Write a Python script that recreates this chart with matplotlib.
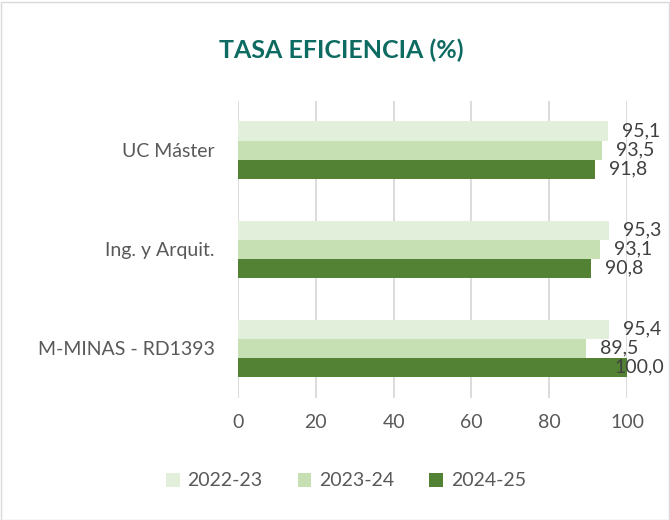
import matplotlib
matplotlib.use("Agg")
import matplotlib.pyplot as plt
from matplotlib.patches import Patch, Rectangle
import numpy as np

categories = ["M-MINAS - RD1393", "Ing. y Arquit.", "UC Máster"]
series_names = ["2022-23", "2023-24", "2024-25"]
values_2022 = [95.4, 95.3, 95.1]
values_2023 = [89.5, 93.1, 93.5]
values_2024 = [100.0, 90.8, 91.8]
xticks = [0, 20, 40, 60, 80, 100]

colors = ["#E2EFDA", "#C6E0B4", "#548235"]
text_color = "#595959"
plt.rcParams['font.family'] = ['Lato', 'DejaVu Sans']
fs = 14

fig = plt.figure(figsize=(6.7, 5.2), dpi=100)
ax = fig.add_axes([238/670, 1-397.5/520, (627-238)/670, (397.5-100.5)/520])

y = np.arange(len(categories))
h = 19/99
series = [values_2022, values_2023, values_2024]
offsets = [h, 0, -h]
for vals, off, col in zip(series, offsets, colors):
    ax.barh(y + off, vals, height=h, color=col, zorder=2)
    for yi, v in zip(y, vals):
        label = f"{v:.1f}".replace(".", ",")
        if v >= 99:
            ax.annotate(label, xy=(1, yi + off), xycoords=("axes fraction", "data"),
                        xytext=(27, 0), textcoords="offset points", ha="right",
                        va="center", fontsize=fs, color="#404040")
        else:
            ax.annotate(label, xy=(v, yi + off), xytext=(10, 0),
                        textcoords="offset points", ha="left", va="center",
                        fontsize=fs, color="#404040")

ax.set_xlim(0, 100)
ax.set_ylim(-0.5, 2.5)
ax.set_xticks(xticks)
ax.set_xticklabels([str(t) for t in xticks], fontsize=fs, color=text_color)
ax.set_yticks(y)
ax.set_yticklabels(categories, fontsize=fs, color=text_color)
ax.tick_params(axis="both", length=0)
ax.tick_params(axis="x", pad=12)
ax.tick_params(axis="y", pad=17)
ax.grid(axis="x", color="#D9D9D9", linewidth=1.3, zorder=0)
for s in ax.spines.values():
    s.set_visible(False)

fig.text(341/670, 1-50/520, "TASA EFICIENCIA (%)", ha="center", va="center",
         fontsize=18, fontweight="bold", color="#0E6B62")

handles = [Patch(facecolor=c, edgecolor="none") for c in colors]
fig.legend(handles, series_names, loc="center", bbox_to_anchor=(346/670, 1-481/520),
           ncol=3, frameon=False, fontsize=fs, labelcolor=text_color,
           handlelength=0.7, handleheight=0.7, handletextpad=0.4, columnspacing=1.8)

fig.patches.append(Rectangle((0.5/670, 0.5/520), 668/670, 518/520, transform=fig.transFigure,
                             fill=False, edgecolor="#D9D9D9", linewidth=1))

fig.savefig("out.png", dpi=100)
